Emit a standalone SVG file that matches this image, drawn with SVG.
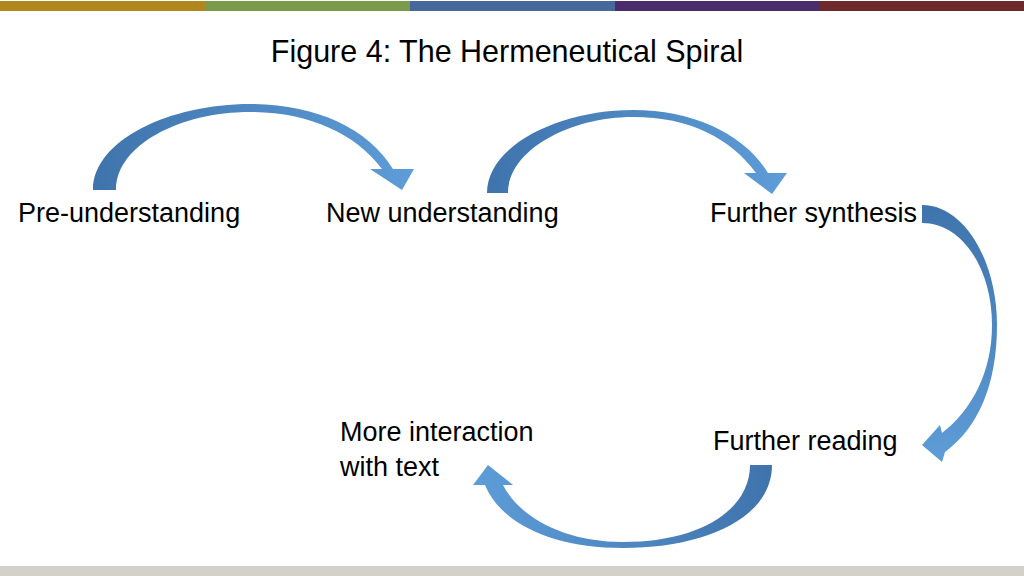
<svg xmlns="http://www.w3.org/2000/svg" width="1024" height="576" viewBox="0 0 1024 576">
<style>
.t{font-family:"Liberation Sans",Arial,sans-serif;fill:#000;}
.lbl{font-size:27px;}
.title{font-size:30.5px;}
.arr{stroke:none;}
</style>
<defs>
<linearGradient id="gH" x1="0" y1="0" x2="1" y2="0">
<stop offset="0" stop-color="#3F73AC"/>
<stop offset="1" stop-color="#5E9DD8"/>
</linearGradient>
<linearGradient id="gHr" x1="1" y1="0" x2="0" y2="0">
<stop offset="0" stop-color="#3F73AC"/>
<stop offset="1" stop-color="#5E9DD8"/>
</linearGradient>
<linearGradient id="gV" x1="0" y1="0" x2="0" y2="1">
<stop offset="0" stop-color="#3F73AC"/>
<stop offset="1" stop-color="#5E9DD8"/>
</linearGradient>
</defs>
<rect width="1024" height="576" fill="#fff"/>
<g id="topbar">
<rect x="0" y="1" width="205" height="10" fill="#B0861F"/>
<rect x="205" y="1" width="205" height="10" fill="#7A9A4E"/>
<rect x="410" y="1" width="205" height="10" fill="#47689A"/>
<rect x="615" y="1" width="205" height="10" fill="#4B2D6B"/>
<rect x="820" y="1" width="204" height="10" fill="#6E2A2A"/>
</g>
<rect id="bottombar" x="0" y="566" width="1024" height="10" fill="#D4D1CB"/>
<text id="title" class="t title" x="507" y="62" text-anchor="middle">Figure 4: The Hermeneutical Spiral</text>
<g id="n1"><text class="t lbl" x="18" y="222">Pre-understanding</text></g>
<g id="n2"><text class="t lbl" x="326" y="222">New understanding</text></g>
<g id="n3"><text class="t lbl" x="710" y="222">Further synthesis</text></g>
<g id="n4"><text class="t lbl" x="713" y="450">Further reading</text></g>
<g id="n5"><text class="t lbl" x="340" y="441">More interaction</text><text class="t lbl" x="340" y="476">with text</text></g>
<g id="connectors">
<path class="arr" fill="url(#gH)" d="M93,190 C93,140 170,104 250,104 C315,104 368,128 393,169 L414,169 L402,190 L370,169 L382,169 C355,133 308,112 250,112 C180,112 116,145 116,190 Z"/>
<path class="arr" fill="url(#gH)" d="M487,193 C487,145 560,110 633,110 C695,110 745,135 768,173 L787,173 L772,194 L744,173 L756,173 C730,138 690,117 633,117 C570,117 508,150 508,193 Z"/>
<path class="arr" fill="url(#gV)" d="M922,205 C965,205 997,262 997,325 C997,385 978,428 945,452 L942,462 L922,445 L940,425 L942,433 C972,410 992,372 992,325 C992,268 962,223 922,223 Z"/>
<path class="arr" fill="url(#gHr)" d="M772,465 C772,518 705,548 623,548 C550,548 500,522 485,485 L473,485 L488,465 L513,485 L503,485 C520,518 565,542 623,542 C700,542 750,510 750,465 Z"/>
</g>
</svg>
